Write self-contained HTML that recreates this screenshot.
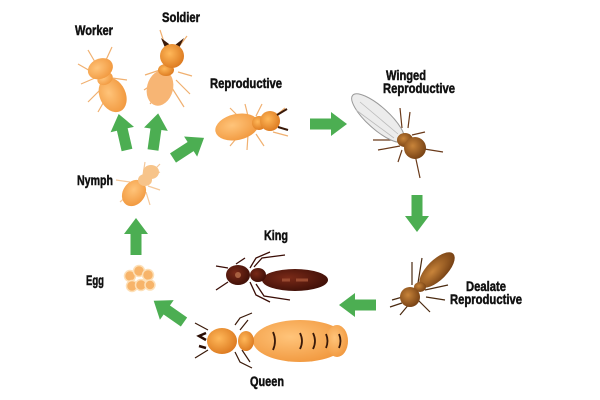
<!DOCTYPE html>
<html><head><meta charset="utf-8"><style>
html,body{margin:0;padding:0;background:#fff;width:600px;height:400px;overflow:hidden}
text{font-family:"Liberation Sans",sans-serif;font-weight:bold;fill:#111;font-size:14px;stroke:#111;stroke-width:0.5}
</style></head><body>
<svg width="600" height="400" viewBox="0 0 600 400" xmlns="http://www.w3.org/2000/svg">
<defs>
<polygon id="ar" points="0,-5.5 21,-5.5 21,-12 37,0 21,12 21,5.5 0,5.5" fill="#4cae52"/>
<radialGradient id="or" cx="0.4" cy="0.4" r="0.7"><stop offset="0" stop-color="#ffc47a"/><stop offset="1" stop-color="#f0953a"/></radialGradient>
<radialGradient id="or2" cx="0.4" cy="0.4" r="0.7"><stop offset="0" stop-color="#ffb85a"/><stop offset="1" stop-color="#d9741a"/></radialGradient>
<radialGradient id="br" cx="0.4" cy="0.4" r="0.7"><stop offset="0" stop-color="#c8843a"/><stop offset="1" stop-color="#6e3a10"/></radialGradient>
<radialGradient id="dk" cx="0.4" cy="0.4" r="0.7"><stop offset="0" stop-color="#7a2a18"/><stop offset="1" stop-color="#3a0d06"/></radialGradient>
</defs>

<!-- arrows -->
<use href="#ar" transform="translate(127,150) rotate(-103)"/>
<use href="#ar" transform="translate(153,150) rotate(-82)"/>
<use href="#ar" transform="translate(173,158) rotate(-33)"/>
<use href="#ar" transform="translate(310,124)"/>
<use href="#ar" transform="translate(417,195) rotate(90)"/>
<use href="#ar" transform="translate(376,305) rotate(180)"/>
<use href="#ar" transform="translate(184,322) rotate(-145)"/>
<use href="#ar" transform="translate(136,255) rotate(-90)"/>

<!-- labels -->
<text x="75" y="35" textLength="38" lengthAdjust="spacingAndGlyphs">Worker</text>
<text x="162" y="22" textLength="38" lengthAdjust="spacingAndGlyphs">Soldier</text>
<text x="210" y="88" textLength="72" lengthAdjust="spacingAndGlyphs">Reproductive</text>
<text x="386" y="80" textLength="40" lengthAdjust="spacingAndGlyphs">Winged</text>
<text x="383" y="93" textLength="72" lengthAdjust="spacingAndGlyphs">Reproductive</text>
<text x="77" y="185" textLength="36" lengthAdjust="spacingAndGlyphs">Nymph</text>
<text x="86" y="285" textLength="18" lengthAdjust="spacingAndGlyphs">Egg</text>
<text x="264" y="240" textLength="24" lengthAdjust="spacingAndGlyphs">King</text>
<text x="466" y="291" textLength="40" lengthAdjust="spacingAndGlyphs">Dealate</text>
<text x="450" y="304" textLength="72" lengthAdjust="spacingAndGlyphs">Reproductive</text>
<text x="250" y="386" textLength="34" lengthAdjust="spacingAndGlyphs">Queen</text>

<!-- worker -->
<g stroke="#f0b070" stroke-width="1.2" fill="none">
<path d="M92,72 L78,64 M95,78 L81,84 M112,78 L127,80 M110,86 L124,98 M100,90 L88,102 M106,98 L98,112 M113,96 L120,110 M95,62 L88,50 M106,60 L112,47"/>
</g>
<g transform="rotate(-25 108 85)">
<ellipse cx="108" cy="96" rx="13" ry="18" fill="url(#or)"/>
<ellipse cx="108" cy="78" rx="8" ry="6" fill="url(#or)"/>
<ellipse cx="108" cy="67" rx="13" ry="10" fill="url(#or)"/>
</g>
<!-- soldier -->
<g stroke="#f0b070" stroke-width="1.2" fill="none">
<path d="M160,70 L145,75 M162,78 L144,90 M166,84 L150,104 M178,72 L192,76 M176,80 L190,94 M172,88 L184,107 M165,45 L160,30 M178,48 L187,36"/>
</g>
<path d="M166,50 L161,38 L169,44 Z M178,50 L184,38 L175,45 Z" fill="#3a1a0a"/>
<ellipse cx="160" cy="88" rx="13" ry="18" fill="#f7b574" transform="rotate(15 160 88)"/>
<ellipse cx="166" cy="70" rx="8" ry="6" fill="url(#or2)"/>
<ellipse cx="172" cy="56" rx="12" ry="12" fill="url(#or2)"/>
<!-- reproductive -->
<g stroke="#f0b070" stroke-width="1.2" fill="none">
<path d="M240,118 L230,108 M248,116 L245,104 M256,116 L262,104 M240,134 L230,146 M248,135 L247,150 M256,134 L264,146 M273,118 L285,108 M273,132 L288,136"/>
</g>
<ellipse cx="237" cy="127" rx="22" ry="13" fill="url(#or)" transform="rotate(-12 237 127)"/>
<ellipse cx="259" cy="123" rx="7" ry="7" fill="url(#or2)"/>
<ellipse cx="270" cy="121" rx="10" ry="10" fill="url(#or2)"/>
<path d="M277,115 L287,109 M278,127 L288,130" stroke="#3a1a0a" stroke-width="2"/>
<!-- winged -->
<g stroke="#6a3a1a" stroke-width="1.2" fill="none">
<path d="M402,128 L400,108 M408,128 L410,112 M412,135 L425,132 M413,145 L425,150 M398,140 L373,140 M400,146 L378,150 M402,150 L398,162 M414,150 L420,178 M418,148 L443,152"/>
</g>
<ellipse cx="378" cy="118" rx="34" ry="11" fill="#ececec" stroke="#999" transform="rotate(42 378 118)"/>
<path d="M360,102 L398,134 M356,110 L394,138" stroke="#bbb" stroke-width="0.8"/>
<ellipse cx="405" cy="140" rx="8" ry="7" fill="url(#br)"/>
<ellipse cx="415" cy="148" rx="11" ry="11" fill="url(#br)"/>
<!-- nymph -->
<g stroke="#f5c89a" stroke-width="1.2" fill="none">
<path d="M130,182 L116,180 M134,190 L120,202 M145,178 L160,172 M148,186 L160,190 M146,192 L150,205 M143,175 L145,162 M152,172 L160,164"/>
</g>
<ellipse cx="134" cy="193" rx="11" ry="14" fill="url(#or)" transform="rotate(35 134 193)"/>
<ellipse cx="145" cy="180" rx="7" ry="6" fill="#f7c48a"/>
<ellipse cx="151" cy="172" rx="8" ry="7" fill="#f7c48a"/>
<!-- eggs -->
<g fill="#f7b46a" stroke="#fde0b8" stroke-width="1.5">
<circle cx="130" cy="276" r="5.5"/><circle cx="139" cy="271" r="5.5"/><circle cx="148" cy="275" r="5.5"/>
<circle cx="132" cy="286" r="5.5"/><circle cx="141" cy="285" r="5.5"/><circle cx="150" cy="285" r="5"/>
</g>
<!-- king -->
<g stroke="#3a0d06" stroke-width="1.3" fill="none">
<path d="M228,268 L216,266 M228,282 L216,290 M250,268 L256,258 L270,252 M254,267 L262,258 L285,255 M250,282 L256,295 L270,302 M256,284 L264,296 L290,300 M236,264 L245,258"/>
</g>
<ellipse cx="295" cy="280" rx="33" ry="11" fill="url(#dk)"/>
<ellipse cx="258" cy="275" rx="8" ry="7" fill="url(#dk)"/>
<ellipse cx="238" cy="275" rx="12" ry="10" fill="url(#dk)"/>
<circle cx="238" cy="275" r="3" fill="#a86040"/>
<path d="M296,280 h12 M282,280 h8" stroke="#9a4a30" stroke-width="3"/>
<!-- queen -->
<g stroke="#3a1a0a" stroke-width="1.2" fill="none">
<path d="M208,330 L195,323 M208,350 L195,358 M235,325 L240,318 L252,313 M240,330 L248,320 M235,352 L240,362 L252,368 M242,350 L250,362"/>
</g>
<ellipse cx="300" cy="341" rx="47" ry="21" fill="url(#or)"/>
<ellipse cx="337" cy="341" rx="11" ry="16" fill="url(#or)"/>
<ellipse cx="246" cy="341" rx="8" ry="10" fill="url(#or2)"/>
<ellipse cx="222" cy="341" rx="15" ry="13" fill="url(#or2)"/>
<path d="M206,333 L199,336 L206,340 M206,348 L199,346" stroke="#2a0d04" stroke-width="2.5" fill="none"/>
<g stroke="#3a1a0a" stroke-width="1.8" fill="none">
<path d="M273,332 q4,9 0,18 M300,333 q4,8 0,16 M313,333 q4,8 0,16 M326,334 q3,7 0,14 M339,334 q3,7 0,14"/>
</g>
<!-- dealate -->
<g stroke="#4a2a10" stroke-width="1.2" fill="none">
<path d="M412,285 L412,262 M418,283 L422,258 M425,290 L448,285 M426,297 L445,300 M406,296 L392,300 M410,303 L400,315 M418,300 L430,312 M402,303 L390,307"/>
</g>
<ellipse cx="437" cy="270" rx="23" ry="10" fill="url(#br)" transform="rotate(-45 437 270)"/>
<ellipse cx="420" cy="287" rx="6" ry="5" fill="url(#br)"/>
<ellipse cx="410" cy="297" rx="10" ry="10" fill="url(#br)"/>
</svg>
</body></html>
